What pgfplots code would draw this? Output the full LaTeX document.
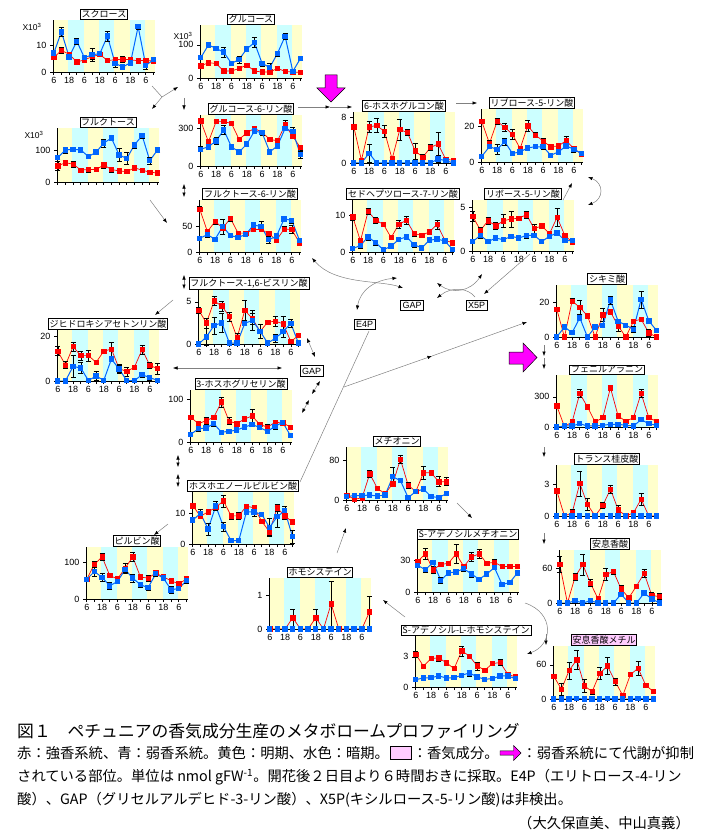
\documentclass[border=0pt]{standalone}
\usepackage{fontspec}
\setmainfont{Liberation Sans}
\newfontfamily\jp{Noto Sans CJK JP}
\usepackage{pgfplots}
\usepackage{pgfplotstable}
\pgfplotsset{compat=1.18}
\usetikzlibrary{arrows.meta,shapes.arrows}

\definecolor{yband}{HTML}{FFFFCC}
\definecolor{cband}{HTML}{CCFFFF}
\definecolor{rser}{HTML}{FF0000}
\definecolor{bser}{HTML}{0066FF}
\definecolor{pinkbox}{HTML}{FFCCFF}
\definecolor{mag}{HTML}{FF00FF}

% columns: time index, red mean, red err, blue mean, blue err
\pgfplotstableread{
x r re b be
0 5.4 0.8 7.0 0.6
1 8.0 1.2 14.9 1.8
2 6.6 0.8 5.6 0.8
3 3.7 1.0 11.4 1.0
4 4.5 0.8 5.3 0.6
5 5.7 0.8 6.4 2.5
6 6.5 0.8 6.8 0.5
7 4.3 0.5 13.3 2.0
8 4.5 1.0 3.2 1.5
9 4.8 1.0 1.9 0.3
10 4.5 1.0 3.4 0.5
11 4.2 1.0 16.8 0.8
12 4.3 0.8 2.4 1.2
13 4.1 0.6 4.6 0.6
}\tSuc
\pgfplotstableread{
x r re b be
0 52 15 78 5
1 61 8 102 10
2 57 10 104 5
3 38 5 102 8
4 40 8 81 4
5 40 4 95 5
6 54 10 124 12
7 40 8 140 5
8 35 5 86 20
9 33 4 75 20
10 45 6 118 10
11 38 4 148 8
12 31 6 68 10
13 29 3 102 8
}\tFru
\pgfplotstableread{
x r re b be
0 37 5 61 5
1 46 5 100 6
2 44 6 89 5
3 21 4 78 14
4 21 6 44 5
5 29 5 56 10
6 39 6 88 8
7 21 4 107 15
8 18 6 44 8
9 18 4 32 12
10 29 5 74 8
11 20 3 126 10
12 18 6 20 4
13 17 3 59 5
}\tGlc
\pgfplotstableread{
x r re b be
0 359 10 134 20
1 193 20 153 20
2 354 15 201 25
3 354 15 287 35
4 340 10 153 10
5 212 10 112 8
6 265 20 174 15
7 300 15 279 15
8 268 20 265 15
9 212 15 112 10
10 201 15 161 15
11 327 35 300 15
12 236 15 273 35
13 147 20 91 30
}\tGsp
\pgfplotstableread{
x r re b be
0 84 5 27 4
1 40 4 34 6
2 60 5 25 3
3 47 5 50 15
4 66 5 32 4
5 37 3 29 3
6 37 3 34 4
7 44 3 53 3
8 44 4 50 10
9 36 3 24 6
10 23 3 31 6
11 45 5 65 3
12 44 8 62 5
13 18 3 23 3
}\tFsp
\pgfplotstableread{
x r re b be
0 6.3 0.3 0 0
1 0.46 0.2 0 0
2 6.3 1.0 1.7 1.6
3 6.5 1.2 0 0
4 5.5 1.0 0 0
5 0.7 0.3 0 0
6 5.8 1.8 0 0
7 5.3 0.5 0 0
8 2.1 1.4 0 0
9 1.0 0.5 0 0
10 2.7 0.5 0 0
11 3.3 2.0 0.7 0.5
12 0.6 0.3 0.4 0.1
13 0.5 0.2 0 0
}\tPg
\pgfplotstableread{
x r re b be
0 22.9 1 3.2 0.5
1 10.5 1.5 8.6 1
2 22.9 1.5 7.2 3
3 19.6 2.5 11.4 2
4 15.6 3 4.8 1
5 7.6 1.5 5.7 1.5
6 20.4 3 8 1
7 15.2 1.5 8.6 1
8 11.8 1.5 8.6 1.5
9 8.6 1 3.8 0.5
10 9.1 1 5.7 0.5
11 12 2.5 9.1 1.5
12 7.6 1 7.2 1.5
13 4.4 0.5 4.8 0.5
}\tRu
\pgfplotstableread{
x r re b be
0 9.5 0.8 0.9 0.3
1 3.0 0.5 1.8 0.8
2 11 0.8 4.1 0.8
3 8.6 0.8 2.5 0.6
4 7.5 0.5 0.6 0.3
5 3.9 0.4 1.6 0.6
6 7.5 1 3.4 0.5
7 8.6 1 4.1 0.4
8 5 0.7 2 0.6
9 4.5 0.4 1.1 0.4
10 5.5 0.6 3.2 0.4
11 7.5 1.2 3.5 0.3
12 3.2 0.4 3 0.4
13 2.5 0.4 0.7 0.2
}\tSed
\pgfplotstableread{
x r re b be
0 4.0 0.6 1.1 0.1
1 2.4 0.3 1.8 0.3
2 3.5 0.4 1.1 0.1
3 2.9 0.4 1.5 0.2
4 3.5 0.7 1.3 0.2
5 3.7 0.9 1.7 0.1
6 3.8 0.2 1.5 0.2
7 4.2 0.4 1.8 0.3
8 2.6 0.5 1.8 0.2
9 2.9 0.3 1.1 0.1
10 2.0 0.2 1.7 0.2
11 3.9 1.0 2.1 0.3
12 1.8 0.3 1.2 0.1
13 1.0 0.1 1.2 0.1
}\tRib
\pgfplotstableread{
x r re b be
0 13.3 2 0 0
1 7.1 1.5 0 0
2 15.3 2 6.5 5
3 11.3 2 5.8 2.5
4 11.3 2.5 0.2 0.2
5 8.3 0.5 2.2 2
6 13.3 1 0.3 0.2
7 14.2 3 9.8 0.8
8 5.5 2 5.3 1.5
9 4.2 2 0.2 0.2
10 6.2 0.5 0.2 0.2
11 14 2 2.8 1
12 7 1.5 1.5 1
13 5.5 2.5 0.3 0.2
}\tDhap
\pgfplotstableread{
x r re b be
0 4.0 0.4 0 0
1 2.5 0.6 0.85 1.0
2 5.1 0.5 2.2 1.0
3 4.5 0.6 2.5 1.1
4 3.25 0.5 0.1 0.1
5 0.75 0.5 0.1 0.1
6 4.0 1.2 2.45 0.2
7 3.0 0.7 2.8 1.2
8 1.5 0.2 1.5 0.8
9 2.6 0.1 0.1 0.1
10 2.7 0.6 0.7 0.5
11 2.4 0.9 1.45 0.6
12 0.3 0.1 2.45 0.5
13 1.0 0.2 0.1 0.1
}\tFbp
\pgfplotstableread{
x r re b be
0 58 5 18 3
1 43 5 31 5
2 50 8 33 5
3 58 5 43 5
4 94 12 23 3
5 49 8 25 3
6 43 5 28 3
7 54 5 35 3
8 61 15 41 3
9 41 5 34 5
10 35 6 25 5
11 46 5 37 8
12 45 5 46 5
13 35 5 15 5
}\tPga
\pgfplotstableread{
x r re b be
0 12.5 0.5 7.8 0.5
1 9.1 0.8 10 1.5
2 10.5 0.5 4.9 2
3 12 0.5 12.4 1.5
4 14.1 2 5.7 1.5
5 9.2 1 1.1 0.5
6 9.2 1.2 1.1 0.5
7 12.4 0.5 10.5 0.5
8 11.8 1 10.5 1.5
9 7.4 0.5 9.7 0.5
10 4.0 1 5.4 3
11 11.8 1.2 8.9 3.5
12 9.2 1 10.9 1.5
13 7.2 0.5 2.4 2
}\tPep
\pgfplotstableread{
x r re b be
0 54 3 54 3
1 95 8 75 12
2 115 10 59 10
3 64 4 36 10
4 55 5 48 5
5 84 15 80 8
6 115 12 57 10
7 60 5 39 6
8 57 8 31 6
9 71 5 69 8
10 60 5 57 6
11 50 3 25 10
12 41 6 29 5
13 55 6 50 6
}\tPyr
\pgfplotstableread{
x r re b be
0 0 0 0 0
1 0 0 0 0
2 0 0 0 0
3 0.33 0.25 0 0
4 0 0 0 0
5 0 0 0 0
6 0.33 0.25 0 0
7 0 0 0 0
8 0.74 0.65 0 0
9 0 0 0 0
10 0 0 0 0
11 0 0 0 0
12 0 0 0 0
13 0.5 0.45 0 0
}\tHcy
\pgfplotstableread{
x r re b be
0 10 3 7 2
1 1.3 1 9 2
2 4.7 2 9 2
3 53 7 10 2
4 23 3 8 2
5 13 3 10 3
6 33 5 47 20
7 82 8 39 3
8 30 6 5 2
9 17 3 17 3
10 55 14 22 3
11 55 3 7 2
12 37 10 5 2
13 37 8 13 2
}\tMet
\pgfplotstableread{
x r re b be
0 29 2 25 1
1 36 5 21 2
2 21 3 28 2
3 26 2 11 3
4 27 2 18 2
5 36 9 19 2
6 24 2 22 2
7 33 4 17 3
8 36 4 12 2
9 27 2 17 2
10 28 3 23 2
11 24 2 7 1
12 24 2 9 1
13 24 2 18 2
}\tSam
\pgfplotstableread{
x r re b be
0 3.27 0.3 0.73 0.05
1 2.07 0.1 0.9 0.1
2 2.83 0.2 0.93 0.05
3 2.9 0.3 1.1 0.1
4 2.4 0.1 0.9 0.05
5 1.83 0.2 0.93 0.05
6 3.6 0.5 1.17 0.1
7 3.07 0.2 1.4 0.3
8 2.1 0.4 1.0 0.1
9 1.67 0.1 0.77 0.05
10 2.33 0.2 0.83 0.15
11 2.43 0.3 1.1 0.1
12 1.27 0.1 1.1 0.2
13 1.0 0.1 0.83 0.05
}\tSah
\pgfplotstableread{
x r re b be
0 16.3 1 0 0
1 0 0 5.9 1
2 21 1.5 2.5 1
3 17.3 4 11.2 1
4 12.4 1.5 0 0
5 0 0 5.9 1.5
6 13 4 6.9 1
7 14.7 0.5 21.6 2.5
8 6.5 3 9.2 1
9 0 0 6.9 0.5
10 9.2 1 4.5 1.5
11 10.4 0.5 22 5
12 2.4 2 9.4 1
13 0 0 3.9 0.5
}\tShk
\pgfplotstableread{
x r re b be
0 210 10 0 0
1 5 3 10 3
2 50 10 10 3
3 333 40 33 5
4 200 20 10 3
5 50 10 10 3
6 93 15 17 3
7 390 25 27 3
8 110 10 27 3
9 57 10 17 5
10 93 10 10 3
11 333 40 73 10
12 93 15 33 5
13 57 15 17 3
}\tPhe
\pgfplotstableread{
x r re b be
0 2.4 0.1 0 0
1 0 0 0 0
2 0.3 0.3 0 0
3 3.1 1.2 0 0
4 1.1 0.6 0 0
5 0 0 0 0
6 1.0 0.3 0 0
7 2.55 0.4 0 0
8 0.6 0.4 0 0
9 0 0 0 0
10 0.3 0.1 0 0
11 1.6 0.6 0 0
12 0 0 0 0
13 0 0 0 0
}\tCin
\pgfplotstableread{
x r re b be
0 66 14 0 0
1 0 0 0 0
2 45 6 4 4
3 66 18 0 0
4 34 6 4 2
5 7 5 0 0
6 49 10 0 0
7 54 4 0 0
8 24 7 15 3
9 9 3 0 0
10 29 3 0 0
11 51 7 17 4
12 13 5 7 7
13 11 5 0 0
}\tBz
\pgfplotstableread{
x r re b be
0 40 2 0 0
1 17 10 0 0
2 50 15 0 0
3 69 17 1 1
4 23 12 0 0
5 13 4 0 0
6 45 10 0 0
7 58 15 1 1
8 31 6 0 0
9 6 2 0 0
10 43 3 0 0
11 54 12 1 1
12 24 2 0 0
13 13 2 0 0
}\tMbz

\pgfplotsset{
  panel/.style={
    scale only axis, width=102pt, anchor=south west,
    xmin=-0.1, xmax=13.2, ymin=0,
    axis x line*=bottom, axis y line*=left,
    axis background/.style={fill=yband},
    axis line style={black, line width=0.8pt, -},
    xtick={0,2,...,12}, xticklabels={6,18,6,18,6,18,6},
    minor xtick={1,3,...,13},
    tick align=outside, major tick length=3pt, minor tick length=3pt,
    every tick/.style={black, line width=0.6pt},
    ticklabel style={font=\fontsize{9}{10}\selectfont},
    /pgf/number format/assume math mode=true,
    xticklabel style={yshift=1pt},
    clip=false, axis on top,
  },
  errs/.style={
    error bars/y dir=both, error bars/y explicit,
    error bars/error bar style={black, line width=0.5pt},
    error bars/error mark options={rotate=90, mark size=2.6pt, black, line width=0.5pt},
  },
  rline/.style={rser, line width=0.7pt, mark=square*, mark size=2.2pt,
    mark options={solid, fill=rser, draw=rser}, errs},
  bline/.style={bser, line width=1pt, mark=square*, mark size=2.2pt,
    mark options={solid, fill=bser, draw=bser}, errs},
}
\tikzset{
  ttl/.style={anchor=south, draw=black, line width=0.7pt, inner sep=1.3pt,
    font=\jp\fontsize{9}{10}\selectfont},
  ar/.style={draw=gray, line width=0.5pt, -{Latex[length=4.5pt,width=3.5pt,color=black]}},
  ar2/.style={draw=gray, line width=0.5pt,
    {Latex[length=4.5pt,width=3.5pt,color=black]}-{Latex[length=4.5pt,width=3.5pt,color=black]}},
  lbl/.style={draw=black, line width=0.7pt, inner sep=2pt, fill=white,
    font=\fontsize{9}{10}\selectfont},
}
\newcommand\ttlfill{white}
% #1 left, #2 bottom (px), #3 height, #4 ymax, #5 tick, #6 title, #7 table, #8 extra
\newcommand{\panel}[8]{%
\begin{axis}[panel, at={(#1pt,-#2pt)}, height=#3pt, ymax=#4, ytick={0,#5}, #8]
  \fill[cband] (axis cs:1.9,0) rectangle (axis cs:3.9,#4);
  \fill[cband] (axis cs:5.9,0) rectangle (axis cs:7.9,#4);
  \fill[cband] (axis cs:9.9,0) rectangle (axis cs:11.9,#4);
  \addplot[rline] table[x=x, y=r, y error=re] {#7};
  \addplot[bline] table[x=x, y=b, y error=be] {#7};
  \node[ttl, fill=\ttlfill] at (rel axis cs:0.5,1) {#6};
\end{axis}}

\begin{document}
\begin{tikzpicture}
\begin{scope}[x=1pt, y=-1pt]
\path[use as bounding box] (0,0) rectangle (705,837);
\end{scope}

\panel{53}{72}{52}{19.3}{10}{スクロース}{\tSuc}{}
\panel{57}{182}{54}{172}{100}{フルクトース}{\tFru}{xticklabels={}}
\panel{200}{78}{53}{160}{100}{グルコース}{\tGlc}{}
\panel{200}{166}{51}{407}{300}{グルコース-6-リン酸}{\tGsp}{}
\panel{199}{252}{52}{102}{50}{フルクトース-6-リン酸}{\tFsp}{}
\panel{353}{163}{51}{8.86}{8}{6-ホスホグルコン酸}{\tPg}{}
\panel{481}{162}{53}{29.9}{20}{リブロース-5-リン酸}{\tRu}{}
\panel{352}{252}{52}{14.1}{10}{セドヘプツロース-7-リン酸}{\tSed}{}
\panel{472}{251}{51}{5.9}{5}{リボース-5-リン酸}{\tRib}{}
\panel{57}{381}{51}{22.7}{20}{ジヒドロキシアセトンリン酸}{\tDhap}{}
\panel{198}{344}{54}{6.4}{5}{フルクトース-1,6-ビスリン酸}{\tFbp}{}
\panel{190}{442}{52}{122}{100}{3-ホスホグリセリン酸}{\tPga}{}
\panel{192}{544}{52}{17}{10}{ホスホエノールピルビン酸}{\tPep}{}
\panel{86}{599}{52}{142}{100}{ピルビン酸}{\tPyr}{}
\panel{269}{629}{51}{1.5}{1}{ホモシステイン}{\tHcy}{}
\panel{346}{500}{53}{107}{80}{メチオニン}{\tMet}{}
\panel{417}{592}{52}{49}{30}{S-アデノシルメチオニン}{\tSam}{}
\panel{415}{687}{51}{5.07}{3}{S-アデノシル-L-ホモシステイン}{\tSah}{}
\panel{556}{337}{52}{30.4}{20}{シキミ酸}{\tShk}{}
\panel{556}{427}{52}{517}{300}{フェニルアラニン}{\tPhe}{}
\panel{556}{516}{51}{4.85}{3}{トランス桂皮酸}{\tCin}{}
\panel{559}{603}{53}{91}{60}{安息香酸}{\tBz}{}
\renewcommand\ttlfill{pinkbox}
\panel{553}{699}{53}{93}{60}{安息香酸メチル}{\tMbz}{}

\begin{scope}[x=1pt, y=-1pt]
% scale notes
\node[font=\fontsize{8.5}{9}\selectfont] at (32,27) {X10\textsuperscript{3}};
\node[font=\fontsize{8.5}{9}\selectfont] at (183,36) {X10\textsuperscript{3}};
\node[font=\fontsize{8.5}{9}\selectfont] at (34,135) {X10\textsuperscript{3}};
% magenta arrows
\filldraw[fill=mag, draw=black, line width=0.5pt] (325,75) -- (337,75) -- (337,88) -- (345,88)
  -- (331,102) -- (317,88) -- (325,88) -- cycle;
\filldraw[fill=mag, draw=black, line width=0.5pt] (509,352) -- (523,352) -- (523,343) -- (537,357.5)
  -- (523,372) -- (523,364) -- (509,364) -- cycle;
% pathway arrows
\draw[gray, line width=0.5pt] (152,86) -- (162,97);
\draw[ar] (162,97) -- (178,87);
\draw[ar] (162,97) -- (152,109);
\draw[ar] (184,98) -- (184,110);
\draw[ar2] (184,184) -- (184,197);
\draw[ar] (150,200) -- (167,223);
\draw[ar2] (184,275) -- (184,289);
\draw[ar] (173,300) -- (155,315);
\draw[ar2] (173,368) -- (282,368);
\draw[ar2] (307,338) -- (315,357);
\draw[ar2] (320,381) -- (312,394);
\draw[ar2] (309,400) -- (302,413);
\draw[ar2] (178,455) -- (178,467);
\draw[ar2] (178,474) -- (178,487);
\draw[ar] (168,524) -- (154,535);
\draw[gray, line width=0.5pt] (369,331) -- (300,482);
\draw[ar] (344,387) -- (432,356);
\draw[ar] (432,356) -- (527,322);
\draw[ar2] (312,258) .. controls (335,285) and (380,280) .. (403,288);
\draw[ar2] (357,310) .. controls (360,290) and (375,280) .. (397,278);
\draw[ar2] (437,283) .. controls (452,294) and (470,292) .. (482,274);
\draw[ar] (475,297) .. controls (468,288) and (452,286) .. (437,298);
\draw[ar] (530,254) -- (484,294);
\draw[ar2] (588,177) .. controls (604,183) and (604,199) .. (588,205);
\draw[ar] (563,200) -- (572,183);
\draw[ar] (456,103) -- (477,103);
\draw[ar] (298,107) -- (330,107);
\draw[ar] (330,107) -- (352,107);
\draw[ar] (544,345) -- (544,356);
\draw[ar] (544,358) -- (544,369);
\draw[ar] (544,447) -- (544,457);
\draw[ar] (544,533) -- (544,544);
\draw[ar] (525,603) .. controls (555,613) and (553,645) .. (527,654);
\draw[ar] (546,634) -- (546,645);
\draw[ar] (457,503) -- (472,518);
\draw[ar] (405,617) -- (383,600);
\draw[ar] (337,553) -- (346,528);
\node[lbl] at (311.5,371) {GAP};
\node[lbl] at (412,305.5) {GAP};
\node[lbl] at (476.5,305.5) {X5P};
\node[lbl] at (364.5,324) {E4P};
% caption
\node[anchor=west, inner sep=0pt, font=\jp\fontsize{16.8}{18}\selectfont] at (17,731)
  {図１　ペチュニアの香気成分生産のメタボロームプロファイリング};
\node[anchor=west, inner sep=0pt, font=\jp\fontsize{14.3}{16}\selectfont] (c1) at (17,753)
  {赤：強香系統、青：弱香系統。黄色：明期、水色：暗期。};
\node[anchor=west, draw=black, fill=pinkbox, minimum width=21pt, minimum height=13pt,
  inner sep=0pt] (bx) at ([xshift=1pt]c1.east) {};
\node[anchor=west, inner sep=0pt, font=\jp\fontsize{14.3}{16}\selectfont] (c2) at ([xshift=1pt]bx.east)
  {：香気成分。};
\node[single arrow, draw=black, fill=mag, anchor=west, minimum height=21pt, minimum width=15pt,
  single arrow head extend=3pt, inner sep=1pt] (sa) at ([xshift=1pt]c2.east) {};
\node[anchor=west, inner sep=0pt, font=\jp\fontsize{14.3}{16}\selectfont] at ([xshift=1pt]sa.east)
  {：弱香系統にて代謝が抑制};
\node[anchor=west, inner sep=0pt, font=\jp\fontsize{14.3}{16}\selectfont] at (17,777)
  {されている部位。単位は nmol gFW\textsuperscript{-1}。開花後２日目より６時間おきに採取。E4P（エリトロース-4-リン};
\node[anchor=west, inner sep=0pt, font=\jp\fontsize{14.3}{16}\selectfont] at (17,800)
  {酸）、GAP（グリセルアルデヒド-3-リン酸）、X5P(キシルロース-5-リン酸)は非検出。};
\node[anchor=east, inner sep=0pt, font=\jp\fontsize{14.3}{16}\selectfont] at (690,823)
  {（大久保直美、中山真義）};
\end{scope}
\end{tikzpicture}
\end{document}
